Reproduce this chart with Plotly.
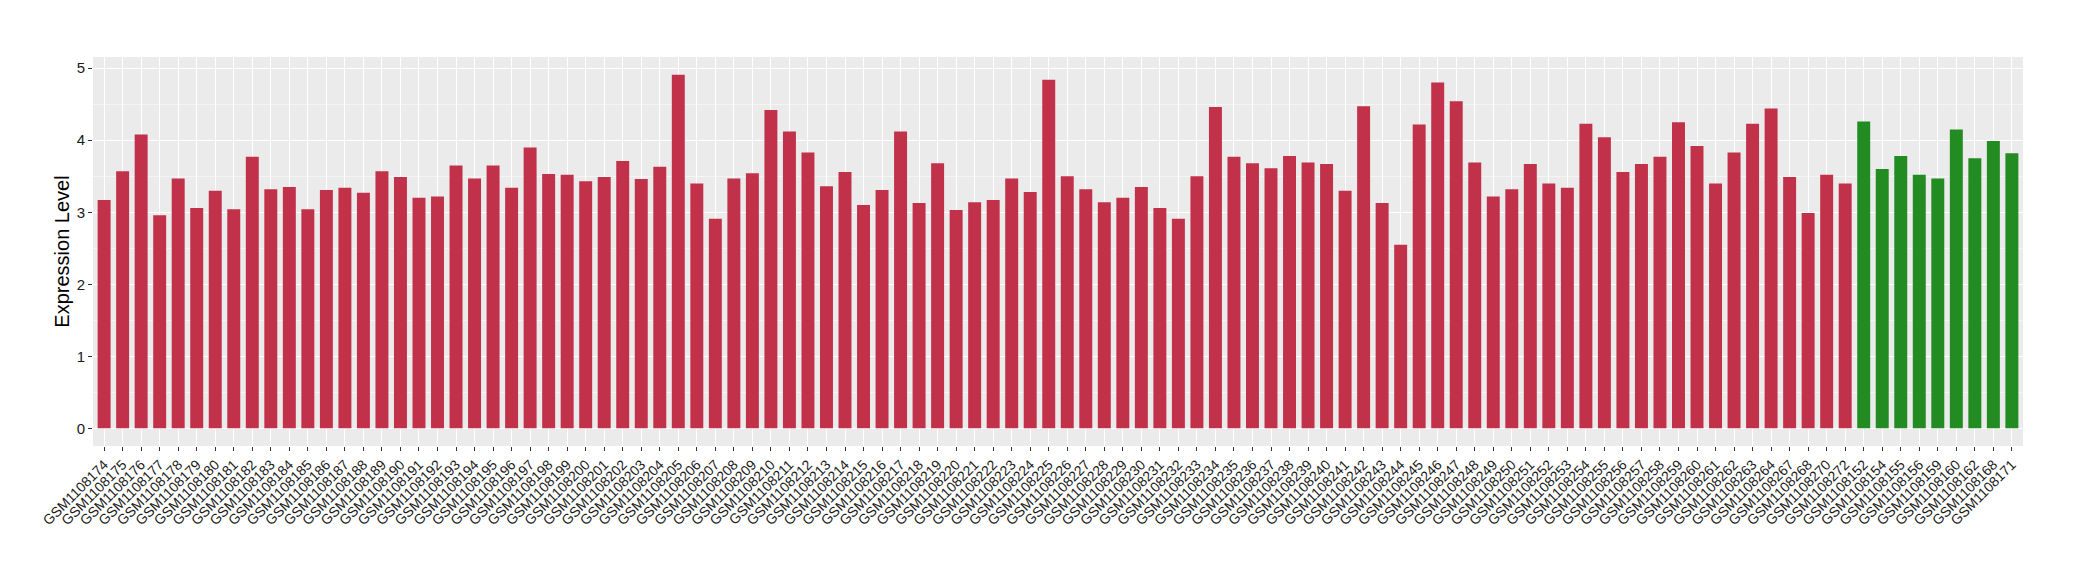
import plotly.graph_objects as go

# sample ids (red group then green group)
red_ids = [f"GSM1108{n}" for n in list(range(174, 265)) + [267, 268, 270, 272]]
green_ids = ["GSM1108152", "GSM1108154", "GSM1108155", "GSM1108156", "GSM1108159",
             "GSM1108160", "GSM1108162", "GSM1108168", "GSM1108171"]

red_values = [
    3.17, 3.57, 4.08, 2.96, 3.47, 3.06, 3.30, 3.04, 3.77, 3.32,
    3.35, 3.04, 3.31, 3.34, 3.27, 3.57, 3.49, 3.20, 3.22, 3.65,
    3.47, 3.65, 3.34, 3.90, 3.53, 3.52, 3.43, 3.49, 3.71, 3.46,
    3.63, 4.91, 3.40, 2.91, 3.47, 3.54, 4.42, 4.12, 3.83, 3.36,
    3.56, 3.10, 3.31, 4.12, 3.13, 3.68, 3.03, 3.14, 3.17, 3.47,
    3.28, 4.84, 3.50, 3.32, 3.14, 3.20, 3.35, 3.06, 2.91, 3.50,
    4.46, 3.77, 3.68, 3.61, 3.78, 3.69, 3.67, 3.30, 4.47, 3.13,
    2.55, 4.22, 4.80, 4.54, 3.69, 3.22, 3.32, 3.67, 3.40, 3.34,
    4.23, 4.04, 3.56, 3.67, 3.77, 4.25, 3.92, 3.40, 3.83, 4.23,
    4.44, 3.49, 2.99, 3.52, 3.40,
]
green_values = [4.26, 3.60, 3.78, 3.52, 3.47, 4.15, 3.75, 3.99, 3.82]

RED = "#C2314A"
GREEN = "#228B22"

samples = red_ids + green_ids
values = red_values + green_values
colors = [RED] * len(red_ids) + [GREEN] * len(green_ids)

fig = go.Figure(go.Bar(
    x=samples, y=values,
    marker_color=colors, marker_line_width=0,
    width=0.7,
))

ymax = max(values)
pad = ymax * 0.05

# page body adds an 8px offset, margins account for it
fig.update_layout(
    width=2080, height=580,
    paper_bgcolor="white",
    plot_bgcolor="#EBEBEB",
    showlegend=False,
    font=dict(family="Liberation Sans, Arial, sans-serif", color="#333333"),
    margin=dict(l=85, r=65, t=49, b=142, pad=0),
    bargap=0.3,
)
fig.update_xaxes(
    type="category",
    range=[-0.6, len(samples) - 0.4],
    showgrid=True, gridcolor="white", gridwidth=1.4,
    ticks="outside", ticklen=4, tickcolor="#333333", tickwidth=1,
    tickangle=-45,
    tickfont=dict(size=14, color="#1a1a1a"),
    showline=False, zeroline=False, automargin=False,
)
fig.update_yaxes(
    range=[-pad, ymax + pad],
    tickvals=[0, 1, 2, 3, 4, 5],
    showgrid=True, gridcolor="white", gridwidth=1.4,
    minor=dict(dtick=0.5, tick0=0, showgrid=True, gridcolor="#F5F5F5", gridwidth=0.7),
    ticks="outside", ticklen=4, tickcolor="#333333", tickwidth=1,
    tickfont=dict(size=15, color="#1a1a1a"),
    title=dict(text="Expression Level", font=dict(size=20, color="black"), standoff=1),
    zeroline=False, showline=False, automargin=False,
)

fig.write_html("out.html")
